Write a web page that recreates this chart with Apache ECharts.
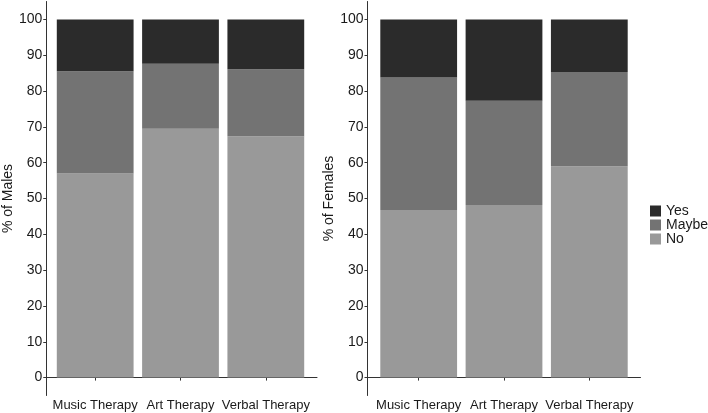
<!DOCTYPE html>
<html>
<head>
<meta charset="utf-8">
<script src="https://cdn.jsdelivr.net/npm/echarts@6/dist/echarts.min.js"></script>
<style>
  html, body { margin: 0; padding: 0; background: #fff; }
  #chart { width: 708px; height: 413px; }
</style>
</head>
<body>
<div id="chart"></div>
<script>
// therapies on the x axis
const categories = ['Music Therapy', 'Art Therapy', 'Verbal Therapy'];
const yTicks = [0, 10, 20, 30, 40, 50, 60, 70, 80, 90, 100];

// % answers, stacked No -> Maybe -> Yes
const malesNo = [57.0, 69.5, 67.4];
const malesMaybe = [28.5, 18.1, 18.7];
const malesYes = [14.5, 12.4, 13.9];

const femalesNo = [46.8, 48.2, 59.0];
const femalesMaybe = [37.0, 29.1, 26.3];
const femalesYes = [16.2, 22.7, 14.7];

const colors = { Yes: '#2b2b2b', Maybe: '#737373', No: '#999999' };
const font = 'Liberation Sans, Arial, sans-serif';
const axisCol = '#333';
const textCol = '#1a1a1a';

const myChart = echarts.init(document.getElementById('chart'));

// grids 0,1 : frame with axis lines (ggplot keeps 0.6 band padding each side)
// grids 2,3 : the bars on a category axis, inset inside the frame
function frameX(idx) {
    return {
        type: 'value', gridIndex: idx, min: 0, max: 1,
        axisLine: { show: true, lineStyle: { color: axisCol, width: 1 } },
        axisTick: { show: false }, axisLabel: { show: false }, splitLine: { show: false }
    };
}
function frameY(idx, name) {
    return {
        type: 'value', gridIndex: idx, min: -5, max: 105,
        name: name, nameLocation: 'middle', nameGap: 29,
        nameTextStyle: { color: textCol, fontSize: 14, fontFamily: font },
        axisLine: { show: true, lineStyle: { color: axisCol, width: 1 } },
        axisTick: { show: true, length: 3, customValues: yTicks, lineStyle: { color: axisCol } },
        axisLabel: { customValues: yTicks, margin: 4, color: textCol, fontSize: 14, fontFamily: font },
        splitLine: { show: false }
    };
}
function barX(idx) {
    return {
        type: 'category', gridIndex: idx, data: categories,
        axisLine: { show: false },
        axisTick: { show: true, length: 3, alignWithLabel: true, lineStyle: { color: axisCol } },
        axisLabel: { interval: 0, margin: 3, color: textCol, fontSize: 13, fontFamily: font },
        splitLine: { show: false }
    };
}
function barY(idx) {
    return {
        type: 'value', gridIndex: idx, min: -5, max: 105, show: false, splitLine: { show: false }
    };
}
function series(name, vals, idx) {
    return {
        name: name, type: 'bar', stack: 'g' + idx,
        xAxisIndex: idx, yAxisIndex: idx,
        barWidth: '90%',
        itemStyle: { color: colors[name] },
        data: vals
    };
}

const band = 273 / 3.2;
myChart.setOption({
    animation: false,
    grid: [
        { left: 44, width: 273, top: 1.5, bottom: 17.5 },
        { left: 367.5, width: 273, top: 1.5, bottom: 17.5 },
        { left: 44 + 0.1 * band, width: 3 * band, top: 1.5, bottom: 17.5 },
        { left: 367.5 + 0.1 * band, width: 3 * band, top: 1.5, bottom: 17.5 }
    ],
    legend: {
        orient: 'vertical', left: 645, top: 199,
        data: ['Yes', 'Maybe', 'No'],
        icon: 'rect', itemWidth: 11, itemHeight: 11, itemGap: 0,
        textStyle: { fontSize: 14, lineHeight: 11, color: textCol, fontFamily: font }
    },
    xAxis: [frameX(0), frameX(1), barX(2), barX(3)],
    yAxis: [frameY(0, '% of Males'), frameY(1, '% of Females'), barY(2), barY(3)],
    series: [
        series('No', malesNo, 2), series('Maybe', malesMaybe, 2), series('Yes', malesYes, 2),
        series('No', femalesNo, 3), series('Maybe', femalesMaybe, 3), series('Yes', femalesYes, 3)
    ]
});
</script>
</body>
</html>
